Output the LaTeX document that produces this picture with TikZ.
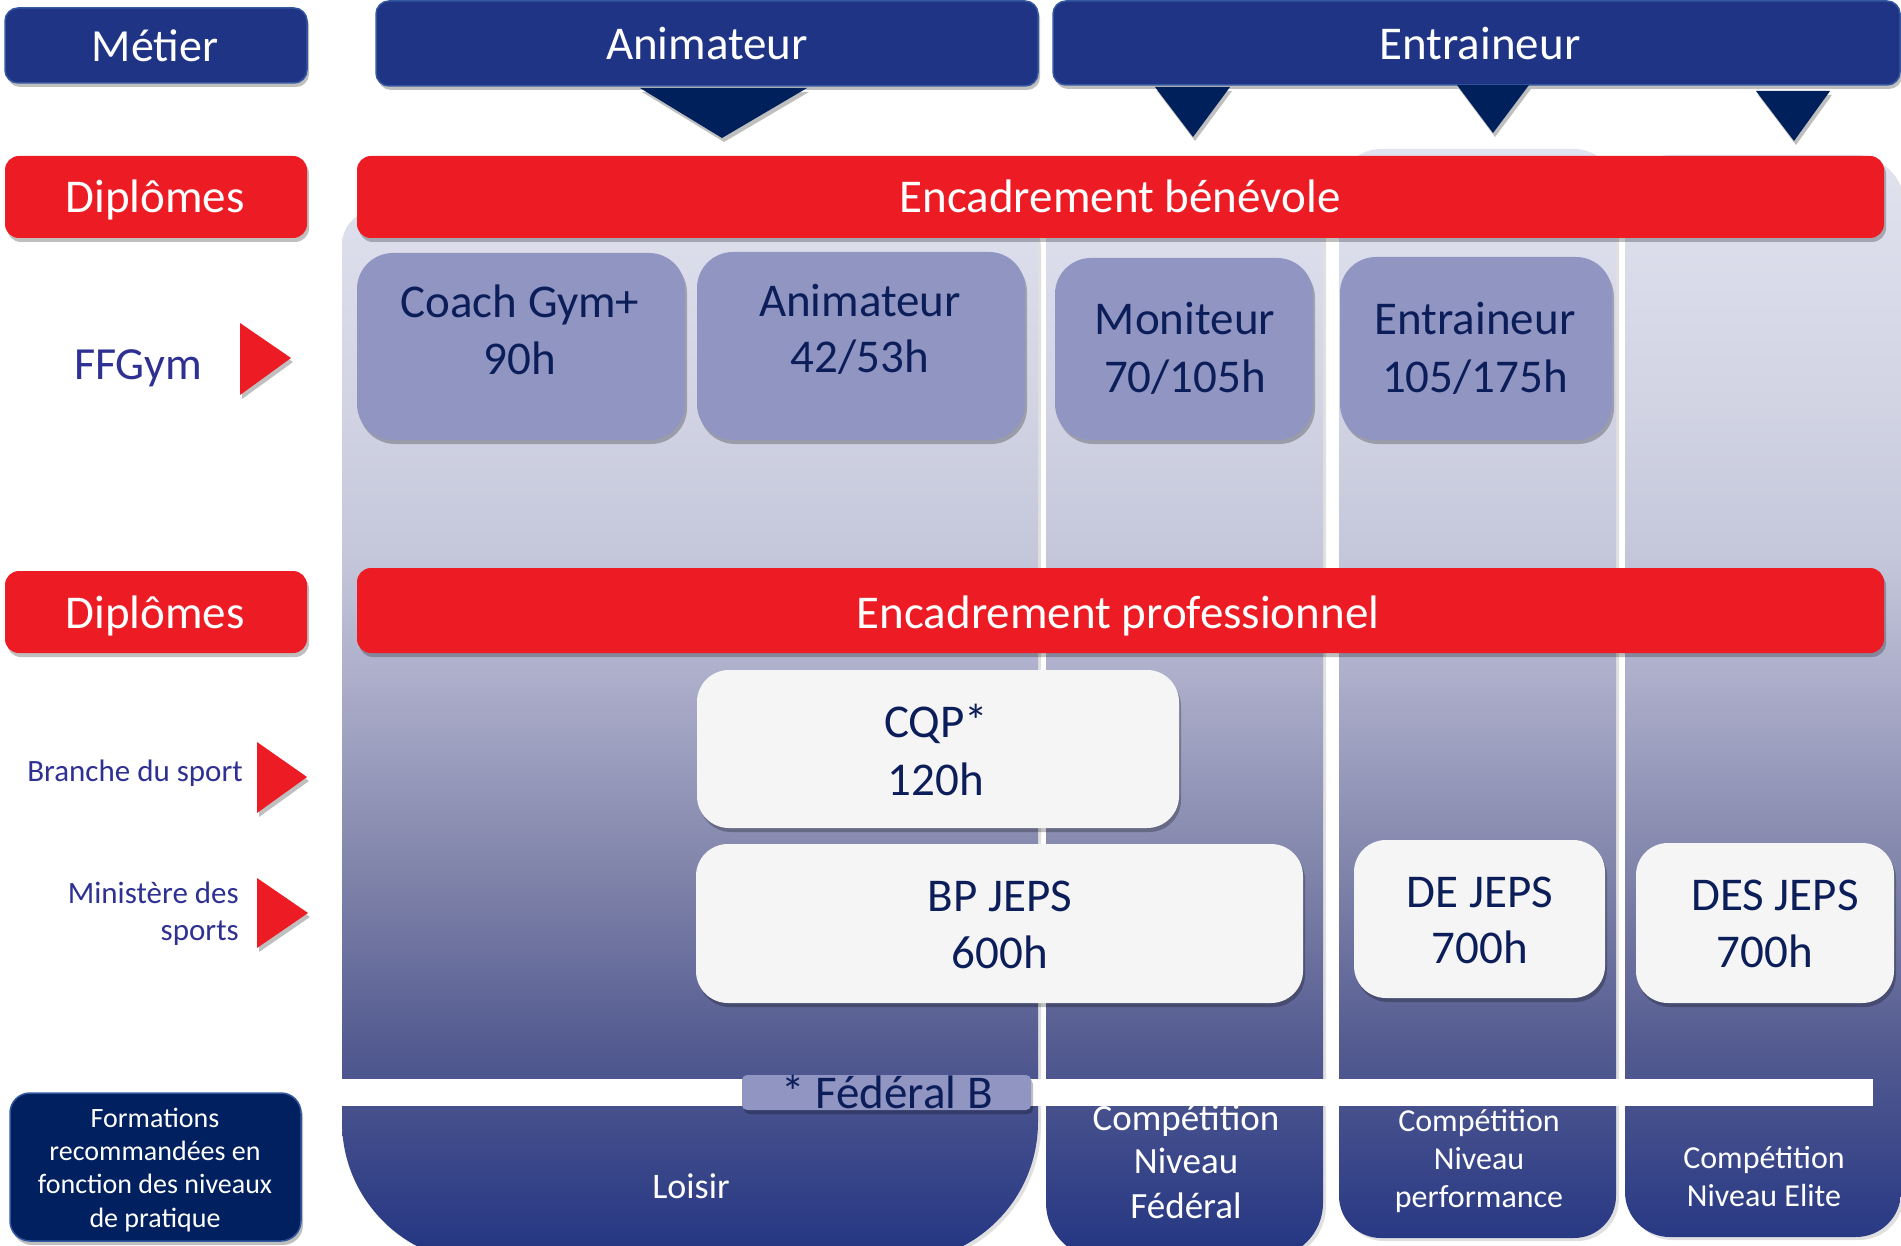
\documentclass[tikz,border=0pt]{standalone}
\usepackage{fontspec}
\setmainfont{Carlito}
\usetikzlibrary{shadows}
\definecolor{navy}{RGB}{31,52,132}
\definecolor{navyedge}{RGB}{52,88,160}
\definecolor{tri}{RGB}{0,32,92}
\definecolor{redc}{RGB}{237,28,36}
\definecolor{lav}{RGB}{145,149,193}
\definecolor{lavtxt}{RGB}{12,30,90}
\definecolor{whitebox}{RGB}{245,245,245}
\definecolor{formfill}{RGB}{0,32,96}
\definecolor{labtxt}{RGB}{46,49,146}
\definecolor{sh0}{RGB}{34,52,130}
\definecolor{sh1}{RGB}{85,92,145}
\definecolor{sh2}{RGB}{128,132,170}
\definecolor{sh3}{RGB}{176,178,205}
\definecolor{sh4}{RGB}{196,199,218}
\definecolor{sh5}{RGB}{210,212,228}
\definecolor{sh6}{RGB}{225,227,240}
\pgfdeclareverticalshading{colshade}{100bp}{color(0bp)=(sh0); color(25bp)=(sh0); color(35bp)=(sh1); color(42.5bp)=(sh2); color(52bp)=(sh3); color(56.5bp)=(sh4); color(63.6bp)=(sh5); color(75bp)=(sh6); color(100bp)=(sh6)}
\newcommand\mycolumns{[rounded corners=35pt] (342,210) rectangle (1038,700) [rounded corners=140pt] (342,400) rectangle (1038,1262) [rounded corners=20pt] (1046,170) rectangle (1323,700) [rounded corners=55pt] (1046,400) rectangle (1323,1258) [rounded corners=42pt] (1339,149) rectangle (1616,1238) [rounded corners=45pt] (1625,155) rectangle (1901,1237)}
\tikzset{
  sh/.style={drop shadow={shadow xshift=2pt, shadow yshift=-4pt, opacity=0.25, fill=black}},
  boxbase/.style={inner sep=0pt, outer sep=0pt, sh},
  bluebox/.style={boxbase, fill=navy, draw=navyedge, line width=1.5pt, rounded corners=13pt},
  redbox/.style={boxbase, fill=redc, rounded corners=14pt},
  lavbox/.style={boxbase, fill=lav, rounded corners=36pt},
  wbox/.style={boxbase, fill=whitebox, rounded corners=32pt},
  formbox/.style={boxbase, fill=formfill, draw=navyedge, line width=1.5pt, rounded corners=20pt},
  fedbox/.style={boxbase, fill=lav, rounded corners=5pt},
  txt/.style={anchor=base, inner sep=0pt},
  rtxt/.style={anchor=base east, inner sep=0pt},
  f47/.style={font=\fontsize{47}{56}\selectfont},
  f46/.style={font=\fontsize{46}{55}\selectfont},
  f37/.style={font=\fontsize{37}{44}\selectfont},
  f36/.style={font=\fontsize{36}{43}\selectfont},
  f32/.style={font=\fontsize{32}{38}\selectfont},
  f31/.style={font=\fontsize{31}{38}\selectfont},
  f28/.style={font=\fontsize{28}{34}\selectfont},
}
\begin{document}
\begin{tikzpicture}[x=1pt,y=-1pt]
\useasboundingbox (0,0) rectangle (1901,1246);
\fill[white] (0,0) rectangle (1901,1246);
% columns
\fill[black, opacity=0.12, xshift=3pt, yshift=-3pt] \mycolumns;
\begin{scope}
\clip \mycolumns;
\shade[shading=colshade] (330,145) rectangle (1905,1265);
\end{scope}
% white band
\fill[white] (342,1079) rectangle (1873,1106);
\node[fedbox, minimum width=289pt, minimum height=35pt] (fedB) at (886.5,1092.5) {};
\node[txt, f47, text=lavtxt] (fedBt) at (887,1108) {* Fédéral B};
% top row
\node[bluebox, minimum width=302pt, minimum height=75pt] (metier) at (156,45.5) {};
\node[txt, f46, text=white] (metiert) at (155,62) {Métier};
\node[bluebox, minimum width=662pt, minimum height=85pt] (anim) at (707,43.5) {};
\node[txt, f47, text=white] (animt) at (707,60) {Animateur};
\node[bluebox, minimum width=847pt, minimum height=84pt] (entr) at (1476.5,43) {};
\node[txt, f47, text=white] (entrt) at (1480,59.5) {Entraineur};
% triangles
\fill[tri, sh] (640,88) -- (807,88) -- (722,138) -- cycle;
\fill[tri, sh] (1155,87) -- (1230,87) -- (1193,137) -- cycle;
\fill[tri, sh] (1457,85) -- (1529,85) -- (1493,133) -- cycle;
\fill[tri, sh] (1756,91) -- (1830,91) -- (1794,141) -- cycle;
% red bars
\node[redbox, minimum width=302pt, minimum height=82pt] (dip1) at (156,197) {};
\node[txt, f47, text=white] (dip1t) at (155,212.5) {Diplômes};
\node[redbox, minimum width=1527pt, minimum height=82pt] (bar1) at (1120.5,197) {};
\node[txt, f47, text=white] (bar1t) at (1120,213) {Encadrement bénévole};
\node[redbox, minimum width=302pt, minimum height=82pt] (dip2) at (156,612) {};
\node[txt, f47, text=white] (dip2t) at (155,628) {Diplômes};
\node[redbox, minimum width=1527pt, minimum height=85pt] (bar2) at (1120.5,610.5) {};
\node[txt, f47, text=white] (bar2t) at (1118,628) {Encadrement professionnel};
% FFGym boxes
\node[lavbox, minimum width=328pt, minimum height=187pt] (cg) at (521,346.5) {};
\node[txt, f47, text=lavtxt] (cg1) at (520,318) {Coach Gym+};
\node[txt, f47, text=lavtxt] (cg2) at (520,375) {90h};
\node[lavbox, minimum width=328pt, minimum height=188pt] (an) at (861,346) {};
\node[txt, f47, text=lavtxt] (an1) at (860,317) {Animateur};
\node[txt, f47, text=lavtxt] (an2) at (860,373) {42/53h};
\node[lavbox, minimum width=258pt, minimum height=182pt] (mo) at (1184,349) {};
\node[txt, f47, text=lavtxt] (mo1) at (1185,335) {Moniteur};
\node[txt, f47, text=lavtxt] (mo2) at (1185,393) {70/105h};
\node[lavbox, minimum width=272pt, minimum height=183pt] (en) at (1476,348.5) {};
\node[txt, f47, text=lavtxt] (en1) at (1475,335) {Entraineur};
\node[txt, f47, text=lavtxt] (en2) at (1475,392) {105/175h};
% white boxes
\node[wbox, minimum width=482pt, minimum height=158pt] (cqp) at (938,749) {};
\node[txt, f47, text=lavtxt] (cqp1) at (936,737) {CQP*};
\node[txt, f47, text=lavtxt] (cqp2) at (936,795) {120h};
\node[wbox, minimum width=607pt, minimum height=159pt] (bp) at (999.5,923.5) {};
\node[txt, f47, text=lavtxt] (bp1) at (1000,911) {BP JEPS};
\node[txt, f47, text=lavtxt] (bp2) at (1000,968) {600h};
\node[wbox, minimum width=251pt, minimum height=158pt] (de) at (1479.5,919) {};
\node[txt, f47, text=lavtxt] (de1) at (1480,907) {DE JEPS};
\node[txt, f47, text=lavtxt] (de2) at (1480,963) {700h};
\node[wbox, minimum width=258pt, minimum height=160pt] (des) at (1765,923) {};
\node[txt, f47, text=lavtxt] (des1) at (1775,910) {DES JEPS};
\node[txt, f47, text=lavtxt] (des2) at (1765,967) {700h};
% left labels
\node[txt, f46, text=labtxt] (ffg) at (138,380) {FFGym};
\fill[redc, sh] (240,323) -- (291,358) -- (240,395) -- cycle;
\node[rtxt, f31, text=labtxt] (branche) at (243,781) {Branche du sport};
\fill[redc, sh] (257,742) -- (307,777) -- (257,813) -- cycle;
\node[rtxt, f31, text=labtxt] (min1) at (239,903) {Ministère des};
\node[rtxt, f31, text=labtxt] (min2) at (239,940) {sports};
\fill[redc, sh] (257,878) -- (308,913) -- (257,948) -- cycle;
% bottom
\node[formbox, minimum width=291pt, minimum height=148pt] (form) at (155.5,1167) {};
\node[txt, f28, text=white] (form1) at (155,1127) {Formations};
\node[txt, f28, text=white] (form2) at (155,1160) {recommandées en};
\node[txt, f28, text=white] (form3) at (155,1193) {fonction des niveaux};
\node[txt, f28, text=white] (form4) at (155,1227) {de pratique};
\node[txt, f36, text=white] (loisir) at (691,1198) {Loisir};
\node[txt, f37, text=white] (c2a) at (1186,1130) {Compétition};
\node[txt, f37, text=white] (c2b) at (1186,1173) {Niveau};
\node[txt, f37, text=white] (c2c) at (1186,1218) {Fédéral};
\node[txt, f32, text=white] (c3a) at (1479,1131) {Compétition};
\node[txt, f32, text=white] (c3b) at (1479,1169) {Niveau};
\node[txt, f32, text=white] (c3c) at (1479,1207) {performance};
\node[txt, f32, text=white] (c4a) at (1764,1168) {Compétition};
\node[txt, f32, text=white] (c4b) at (1764,1206) {Niveau Elite};
\end{tikzpicture}
\end{document}
